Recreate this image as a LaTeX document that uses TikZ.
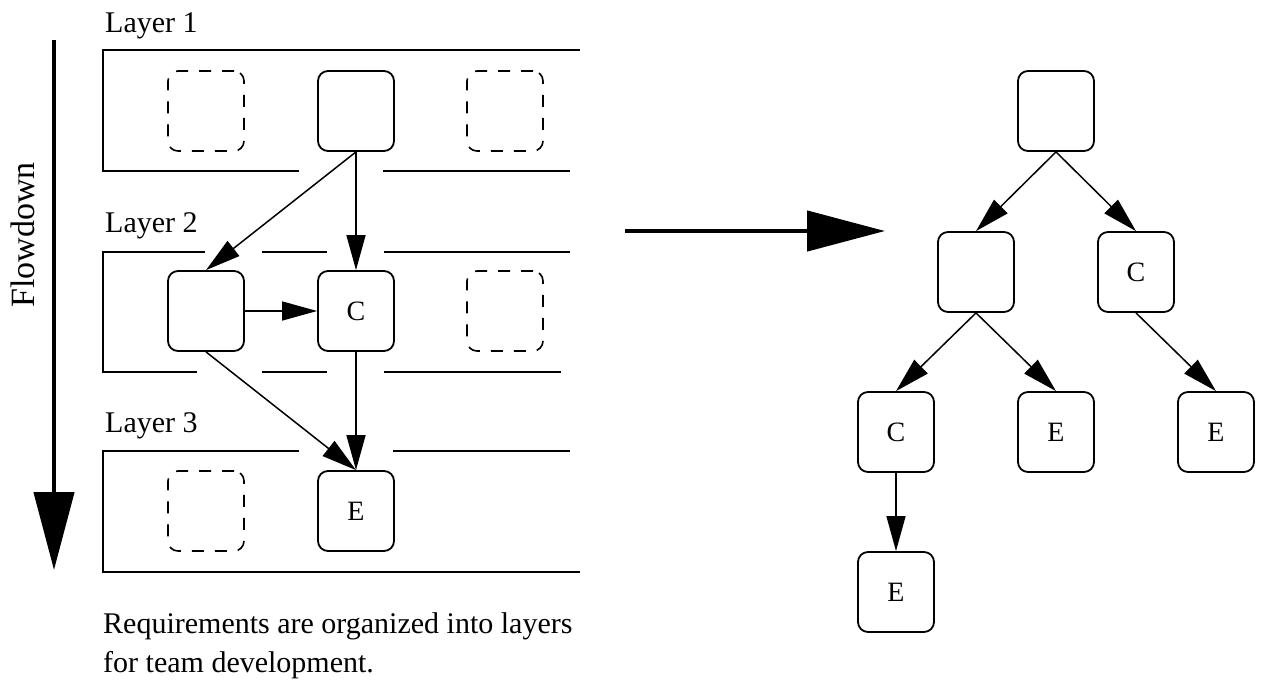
\documentclass[tikz,border=0pt]{standalone}
\usepackage{fontspec}
\setmainfont{Liberation Serif}
\usetikzlibrary{arrows.meta}
\begin{document}
\begin{tikzpicture}[x=1pt,y=-1pt,
  req/.style={draw, line width=1.8pt, rounded corners=10pt, minimum width=76pt,
    minimum height=80pt, inner sep=0pt, font=\fontsize{28}{28}\selectfont},
  slot/.style={req, dash pattern=on 12pt off 11pt, line width=1.6pt},
  band/.style={line width=1.6pt},
  link/.style={line width=1.5pt, -{Triangle[length=35pt,width=19pt]}},
  bigarrow/.style={line width=4.5pt, -{Triangle[length=78pt,width=40pt]}},
  lbl/.style={anchor=base west, inner sep=0pt, font=\fontsize{30}{36}\selectfont}]
\useasboundingbox (0,0) rectangle (1262,691);

% layer bands (open on the right, gaps where links pass)
\draw[band] (580,50) -- (103,50) -- (103,171) -- (299,171);
\draw[band] (383,171) -- (570,171);
\draw[band] (205,252) -- (103,252) -- (103,372) -- (197,372);
\draw[band] (262,252) -- (327,252);
\draw[band] (384,252) -- (570,252);
\draw[band] (262,372) -- (327,372);
\draw[band] (384,372) -- (561,372);
\draw[band] (299,451) -- (103,451) -- (103,572) -- (580,572);
\draw[band] (393,451) -- (570,451);

% layer labels
\node[lbl] (l1) at (105,32) {Layer 1};
\node[lbl] (l2) at (105,232) {Layer 2};
\node[lbl] (l3) at (105,432) {Layer 3};

% requirement slots per layer
\node[slot] (s11) at (206,111) {};
\node[req]  (b1)  at (356,111) {};
\node[slot] (s12) at (505,111) {};
\node[req]  (b2a) at (206,311) {};
\node[req]  (b2c) at (356,311) {C};
\node[slot] (s22) at (505,311) {};
\node[slot] (s31) at (206,511) {};
\node[req]  (b3e) at (356,511) {E};

\draw[link] (b1.south) -- (b2a.north);
\draw[link] (b1.south) -- (b2c.north);
\draw[link] (b2a.east) -- (b2c.west);
\draw[link] (b2a.south) -- (b3e.north);
\draw[link] (b2c.south) -- (b3e.north);

% caption
\node[lbl] (cap1) at (103,633) {Requirements are organized into layers};
\node[lbl] (cap2) at (103,672) {for team development.};

% flowdown arrow
\coordinate (fd0) at (54,40);
\coordinate (fd1) at (54,570);
\draw[bigarrow] (fd0) -- (fd1);
\node[rotate=90, inner sep=0pt, font=\fontsize{34}{36}\selectfont] (fdl) at (23,235) {Flowdown};

% transformation arrow
\coordinate (ha0) at (625,231);
\coordinate (ha1) at (885,231);
\draw[bigarrow] (ha0) -- (ha1);

% resulting tree
\node[req] (t0) at (1056,111) {};
\node[req] (t1) at (976,272) {};
\node[req] (t2) at (1136,272) {C};
\node[req] (t3) at (896,432) {C};
\node[req] (t4) at (1056,432) {E};
\node[req] (t5) at (1216,432) {E};
\node[req] (t6) at (896,592) {E};

\draw[link] (t0.south) -- (t1.north);
\draw[link] (t0.south) -- (t2.north);
\draw[link] (t1.south) -- (t3.north);
\draw[link] (t1.south) -- (t4.north);
\draw[link] (t2.south) -- (t5.north);
\draw[link] (t3.south) -- (t6.north);
\end{tikzpicture}
\end{document}
